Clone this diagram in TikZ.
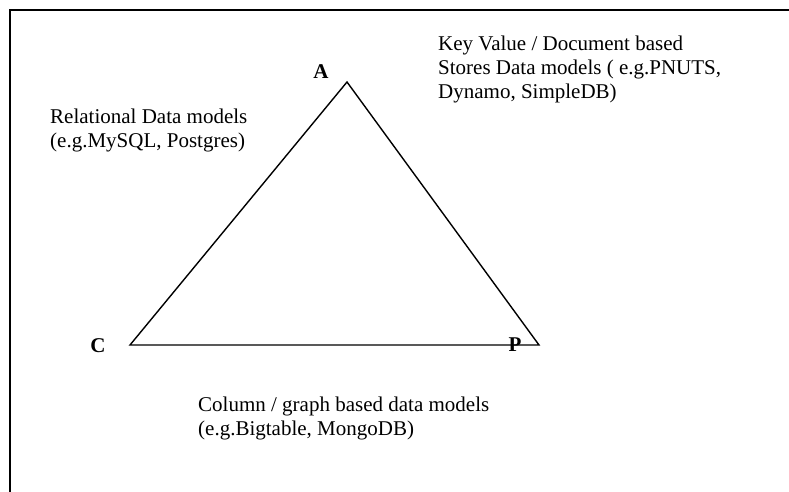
\documentclass[tikz,border=0pt]{standalone}
\usepackage{fontspec}
\setmainfont{Liberation Serif}
\begin{document}
\begin{tikzpicture}[x=1pt,y=-1pt,
  txt/.style={anchor=base west,inner sep=0pt,align=left,font=\fontsize{21}{24}\selectfont},
  corner/.style={inner sep=0pt,font=\fontsize{21}{24}\selectfont\bfseries},
  edge/.style={line width=1.4pt,line join=miter}]
\useasboundingbox (0,0) rectangle (789,492);
\coordinate (tl) at (10,10);
\coordinate (tr) at (789,10);
\coordinate (bl) at (10,492);
\draw[line width=1.6pt] (tr) -- (tl) -- (bl);
\coordinate (A) at (347,82);
\coordinate (C) at (130,345);
\coordinate (P) at (539,345);
\draw[edge] (A) -- (P) -- (C) -- cycle;
\node[corner] (la) at (321,72) {A};
\node[corner] (lc) at (98,346) {C};
\node[corner] (lp) at (515,345) {P};
\node[txt] (kv) at (438,99) {Key Value / Document based\\Stores Data models ( e.g.PNUTS,\\Dynamo, SimpleDB)};
\node[txt] (rel) at (50,147) {Relational Data models\\(e.g.MySQL, Postgres)};
\node[txt] (col) at (198,435) {Column / graph based data models\\(e.g.Bigtable, MongoDB)};
\end{tikzpicture}
\end{document}
